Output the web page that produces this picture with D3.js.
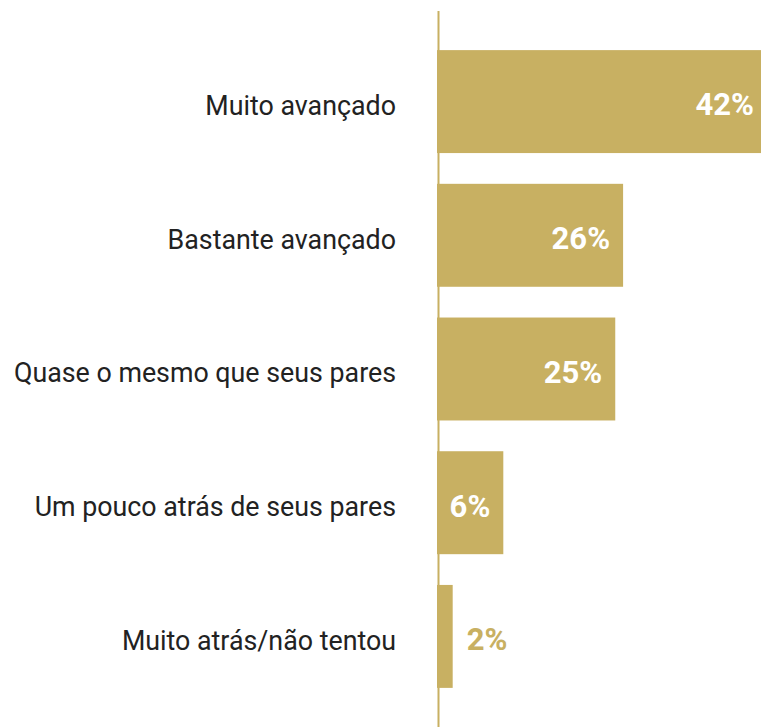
<!DOCTYPE html>
<html>
<head>
<meta charset="utf-8">
<script src="https://cdn.jsdelivr.net/npm/d3@7"></script>
<style>
	body { margin: 0; background: #fff; }
	svg { display: block; }
</style>
</head>
<body>
<script>
/* Data
***********************************************************************/
var categories = ["Muito avançado", "Bastante avançado", "Quase o mesmo que seus pares", "Um pouco atrás de seus pares", "Muito atrás/não tentou"];
var valueLabels = ["42%", "26%", "25%", "6%", "2%"];
// bar lengths (in %)
var barValues = [45.6, 26.1, 25, 9.3, 2.2];

/* Setup SVG
***********************************************************************/
var svgW = 761;
var svgH = 727;
var gold = "#c8b062";

var svg = d3.select("body").append("svg")
	.attr("width", svgW)
	.attr("height", svgH);

var xScale = d3.scaleLinear()
	.domain([0, 50])
	.range([437, 437 + 50 * 7.13]);

var yScale = d3.scaleBand()
	.domain(categories)
	.range([10, 728])
	.paddingInner(0.23)
	.paddingOuter(0.3);

var rows = categories.map(function(c, i) {
	return {cat: c, v: barValues[i], label: valueLabels[i]};
});

function inside(d) { return xScale(d.v) - xScale(0) > 40; }

/* Bars
***********************************************************************/
svg.append("g").selectAll("rect")
	.data(rows)
	.join("rect")
	.attr("x", xScale(0))
	.attr("y", function(d) { return yScale(d.cat); })
	.attr("width", function(d) { return xScale(d.v) - xScale(0); })
	.attr("height", yScale.bandwidth())
	.attr("fill", gold);

// vertical axis line
svg.append("line")
	.attr("x1", 438.5).attr("x2", 438.5)
	.attr("y1", 11).attr("y2", svgH)
	.attr("stroke", gold)
	.attr("stroke-width", 2);

/* Labels
***********************************************************************/
svg.append("g").selectAll("text")
	.data(rows)
	.join("text")
	.attr("x", 396)
	.attr("y", function(d) { return yScale(d.cat) + yScale.bandwidth() / 2 + 4; })
	.attr("dy", "0.35em")
	.attr("text-anchor", "end")
	.attr("font-family", "Roboto, sans-serif")
	.attr("font-size", "26.8px")
	.attr("fill", "#222")
	.text(function(d) { return d.cat; });

svg.append("g").selectAll("text")
	.data(rows)
	.join("text")
	.attr("x", function(d) {
		if (!inside(d)) return xScale(d.v) + 14;
		return d.v > 40 ? svgW - 7 : xScale(d.v) - 13;
	})
	.attr("y", function(d) { return yScale(d.cat) + yScale.bandwidth() / 2 + 3; })
	.attr("dy", "0.35em")
	.attr("text-anchor", function(d) { return inside(d) ? "end" : "start"; })
	.attr("font-family", "Roboto, sans-serif")
	.attr("font-weight", "bold")
	.attr("font-size", "31px")
	.attr("fill", function(d) { return inside(d) ? "#fff" : gold; })
	.text(function(d) { return d.label; });
</script>
</body>
</html>
